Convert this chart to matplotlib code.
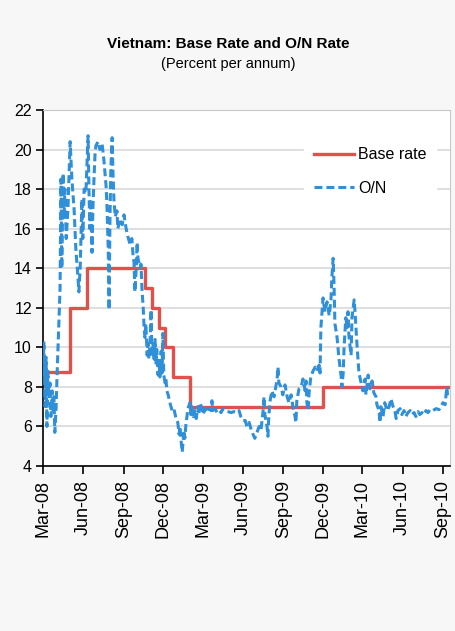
import matplotlib
matplotlib.use("Agg")
import matplotlib.pyplot as plt
import matplotlib.dates as mdates
import numpy as np
import pandas as pd

START = pd.Timestamp("2008-03-01")

# base rate: effective dates and levels (percent)
base_dates = ["2008-03-01", "2008-05-01", "2008-06-10", "2008-10-21", "2008-11-05",
              "2008-11-21", "2008-12-05", "2008-12-22", "2009-02-01", "2009-12-01",
              "2010-09-12"]
base_rate = [8.75, 12, 14, 13, 12, 11, 10, 8.5, 7, 8, 8]

# overnight interbank rate, days counted from 1 Mar 2008
on_days = [0, 2, 5, 7, 9, 11, 14, 16, 18, 21, 23, 25, 27, 30, 32, 39, 41, 43, 46, 48,
           50, 53, 57, 62, 66, 71, 75, 80, 82, 85, 89, 91, 94, 98, 101, 103, 105, 107, 110, 112,
           114, 117, 119, 121, 126, 130, 135, 139, 144, 146, 149, 151, 153, 155, 158, 160, 162, 165, 169, 171,
           176, 181, 185, 190, 194, 199, 203, 206, 208, 210, 213, 215, 217, 222, 224, 226, 229, 231, 233, 235,
           238, 240, 242, 245, 247, 249, 251, 254, 256, 258, 260, 263, 265, 267, 270, 272, 274, 276, 279, 281,
           283, 286, 290, 295, 299, 304, 308, 311, 313, 315, 318, 320, 322, 324, 327, 329, 331, 336, 338, 340,
           343, 347, 350, 354, 356, 359, 363, 366, 370, 375, 379, 384, 386, 388, 393, 398, 402, 407, 411, 416,
           423, 430, 436, 443, 448, 452, 457, 462, 466, 471, 475, 480, 484, 489, 494, 498, 503, 505, 507, 512,
           514, 516, 519, 523, 528, 532, 535, 537, 539, 544, 548, 553, 558, 562, 567, 571, 576, 578, 580, 585,
           590, 594, 599, 601, 603, 606, 608, 612, 617, 622, 626, 631, 633, 635, 640, 644, 649, 654, 658, 660,
           663, 665, 667, 672, 676, 681, 683, 686, 688, 690, 692, 695, 697, 699, 704, 706, 711, 713, 717, 720,
           722, 727, 731, 736, 738, 743, 747, 752, 756, 761, 763, 768, 770, 772, 777, 781, 786, 791, 795, 800,
           804, 807, 811, 816, 820, 825, 829, 834, 839, 843, 848, 852, 857, 861, 866, 871, 875, 880, 884, 891,
           898, 905, 909, 914, 919, 921, 923, 925]
on_rate = [8.5, 10.3, 7.0, 9.5, 6.0, 8.8, 7.5, 8.2, 6.5, 7.8, 6.8, 7.5, 5.7, 7.0, 8.5, 13.0, 18.5, 14.0, 18.8, 16.5,
           18.0, 15.5, 17.0, 20.4, 18.5, 17.0, 15.0, 13.5, 12.8, 14.0, 17.5, 15.5, 18.0, 17.8, 19.5, 20.7, 18.0, 16.0, 17.5, 14.8,
           17.0, 18.8, 19.8, 20.2, 20.4, 20.0, 20.3, 19.5, 18.2, 17.3, 15.0, 11.9, 16.5, 19.0, 20.6, 18.8, 17.5, 16.6, 16.9, 16.0,
           16.5, 16.2, 16.7, 16.0, 15.6, 15.2, 15.5, 14.6, 14.3, 12.8, 14.0, 15.3, 14.5, 14.0, 14.2, 13.0, 12.0, 11.0, 10.5, 11.2,
           9.6, 10.2, 9.4, 10.5, 11.9, 9.5, 10.2, 9.4, 10.4, 9.2, 9.9, 8.6, 9.4, 8.5, 9.8, 8.7, 10.7, 8.6, 8.2, 8.4,
           7.8, 7.6, 7.2, 6.8, 6.9, 6.4, 6.2, 5.6, 6.0, 5.4, 4.7, 5.2, 5.8, 5.4, 6.2, 6.5, 6.9, 7.2, 6.6, 7.0,
           6.5, 6.8, 6.4, 7.0, 6.6, 7.2, 6.9, 6.6, 6.9, 6.7, 6.9, 6.8, 7.3, 6.8, 6.9, 6.7, 6.8, 6.7, 6.9, 6.8,
           6.75, 6.7, 6.75, 6.7, 6.8, 6.5, 6.3, 6.3, 6.0, 6.2, 5.9, 5.6, 5.4, 5.7, 6.0, 5.8, 6.8, 7.5, 6.6, 6.0,
           5.5, 6.5, 7.3, 7.8, 7.5, 8.0, 8.4, 9.0, 8.2, 8.0, 7.6, 8.1, 7.5, 7.2, 7.6, 7.0, 6.5, 6.2, 7.3, 7.9,
           8.0, 8.4, 7.8, 8.3, 7.2, 6.8, 7.7, 8.5, 8.8, 9.0, 8.8, 9.1, 8.7, 11.0, 12.5, 11.8, 12.3, 11.6, 12.4, 13.5,
           14.5, 13.2, 11.2, 10.5, 9.5, 8.6, 8.0, 8.7, 10.0, 10.8, 11.5, 11.0, 11.8, 10.6, 9.6, 11.5, 12.4, 11.8, 10.3, 9.3,
           8.7, 8.2, 7.8, 8.4, 7.6, 8.6, 7.9, 8.3, 7.7, 7.5, 7.1, 6.8, 6.2, 7.0, 6.5, 7.2, 6.8, 7.0, 7.4, 7.0,
           6.8, 6.4, 6.8, 6.9, 6.6, 6.8, 6.5, 6.7, 6.8, 6.6, 6.7, 6.5, 6.75, 6.6, 6.7, 6.6, 6.8, 6.7, 6.85, 6.8,
           6.9, 6.85, 7.0, 7.2, 7.1, 7.6, 8.0, 7.4]

on_dates = START + pd.to_timedelta(on_days, unit="D")
base_dt = pd.to_datetime(base_dates)
tick_dates = pd.date_range("2008-03-01", "2010-09-01", freq="3MS")

FONT = ["Liberation Sans", "DejaVu Sans"]

fig = plt.figure(figsize=(4.56, 6.31), dpi=100, facecolor="#f7f7f7")
ax = fig.add_axes([0.0943, 0.2615, 0.8925, 0.5642])
ax.set_facecolor("white")

ax.plot(base_dt, base_rate, drawstyle="steps-post", color="#e0504c", lw=2.4, label="Base rate", zorder=3)
ax.plot(on_dates, on_rate, color="#2f8fd8", lw=2.2, ls=(0, (2.6, 1.3)), label="O/N", zorder=4)

ax.set_ylim(4, 22)
ax.set_yticks(np.arange(4, 23, 2))
ax.set_xlim(START, pd.Timestamp("2010-09-17"))
ax.set_xticks(tick_dates)
ax.xaxis.set_major_formatter(mdates.DateFormatter("%b-%y"))
ax.grid(axis="y", color="#dcdcdc", lw=1.3)
ax.set_axisbelow(True)

for s in ["top", "right"]:
    ax.spines[s].set_color("#c8c8c8")
for s in ["left", "bottom"]:
    ax.spines[s].set_color("black")
    ax.spines[s].set_linewidth(1.2)

ax.tick_params(axis="y", length=5, width=1.2, labelsize=11.5, pad=3)
ax.tick_params(axis="x", length=6, width=1.2, labelsize=13, labelrotation=90, pad=4)
for lab in ax.get_xticklabels() + ax.get_yticklabels():
    lab.set_family(FONT)

leg = ax.legend(loc="upper right", bbox_to_anchor=(0.985, 0.945), frameon=True, facecolor="white",
                edgecolor="white", framealpha=1, handlelength=2.5, handletextpad=0.25,
                labelspacing=1.15, borderpad=0.6,
                prop={"family": FONT, "size": 11.5})

fig.text(0.5, 0.931, "Vietnam: Base Rate and O/N Rate", ha="center", va="center",
         fontsize=11, fontweight="bold", family=FONT)
fig.text(0.5, 0.899, "(Percent per annum)", ha="center", va="center",
         fontsize=10.5, family=FONT)

fig.savefig("out.png", dpi=100, facecolor=fig.get_facecolor())
